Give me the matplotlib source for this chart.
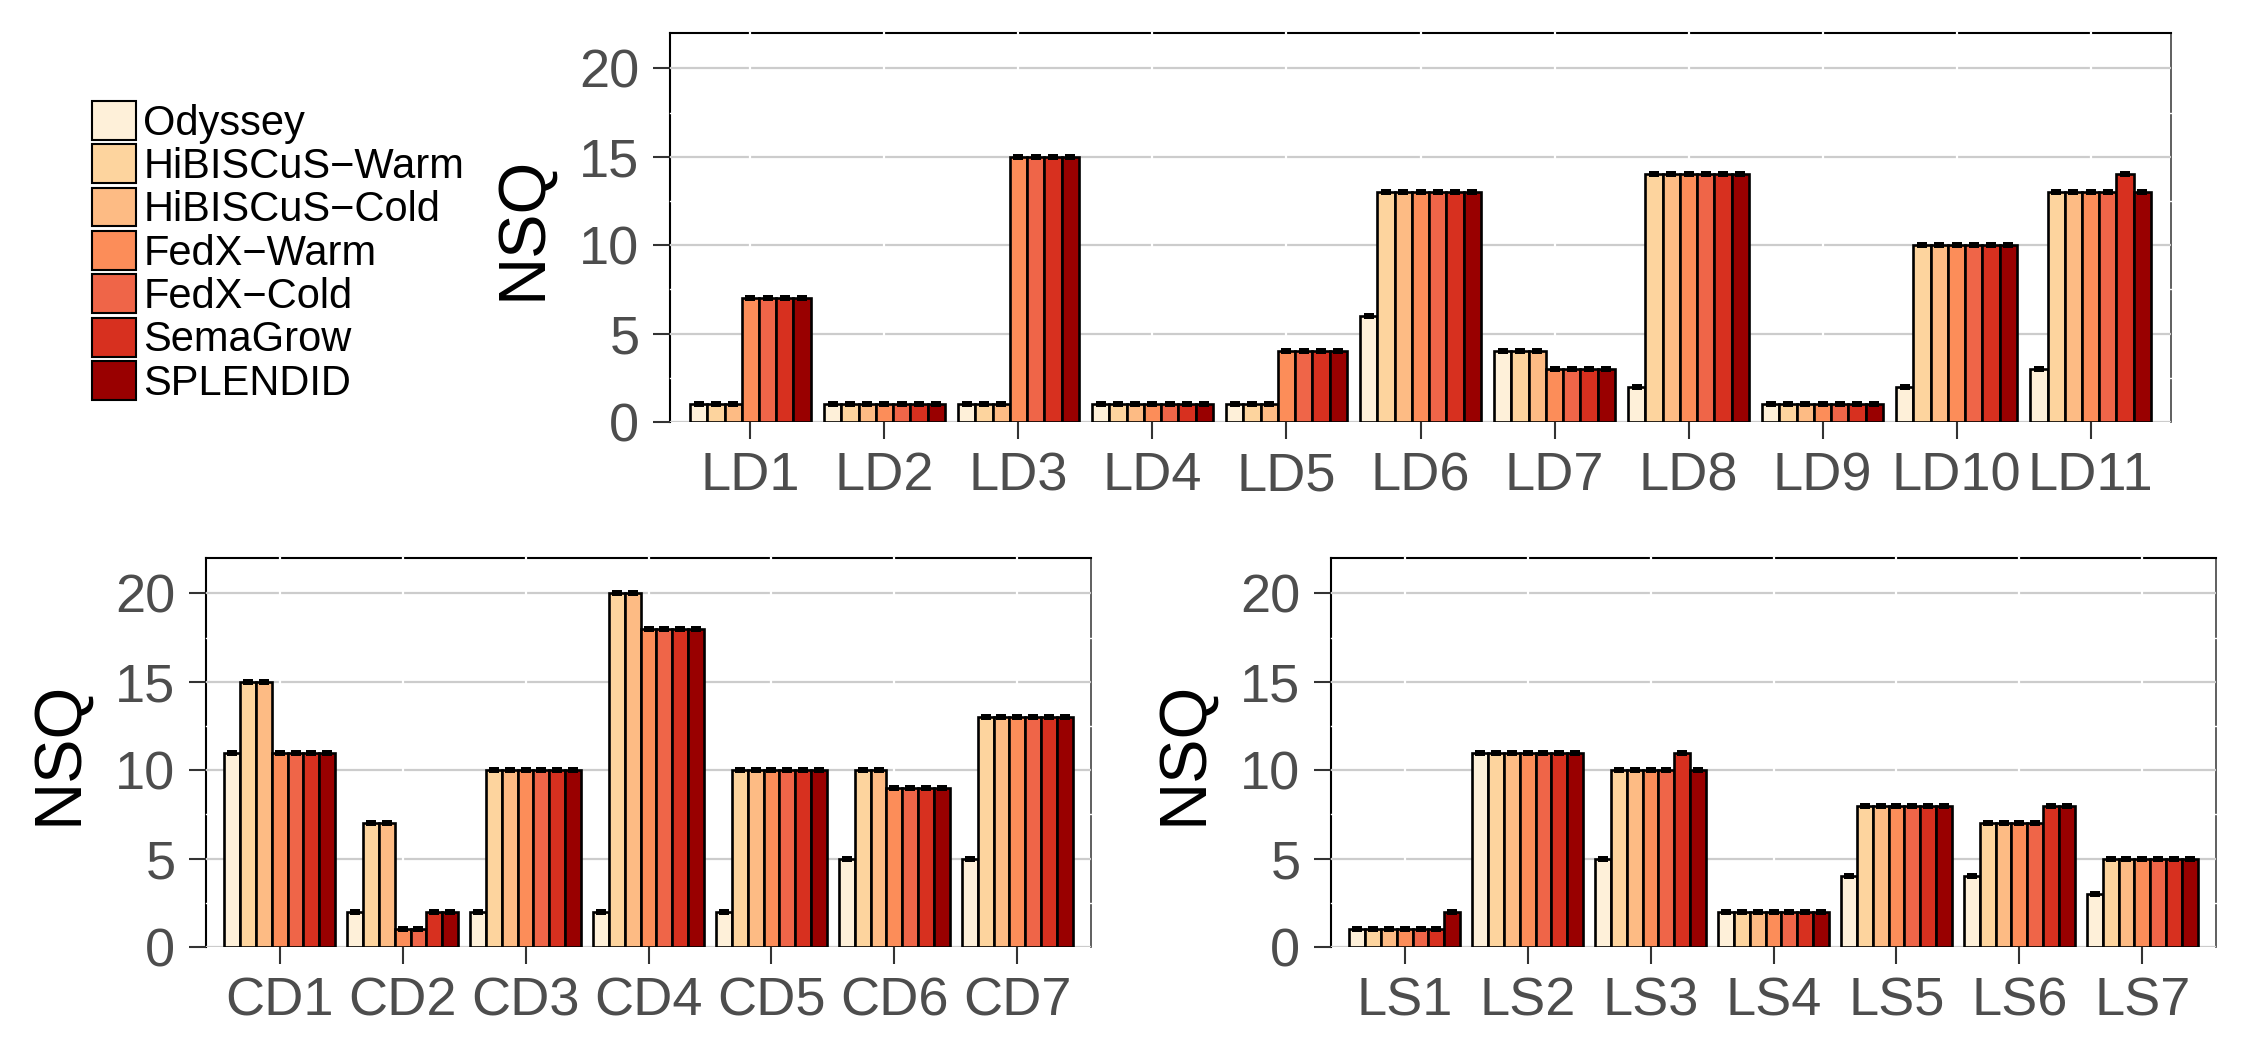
import matplotlib
matplotlib.use("Agg")
import matplotlib.pyplot as plt
from matplotlib.patches import Patch
import numpy as np

plt.rcParams['font.family'] = ['Liberation Sans', 'DejaVu Sans']

systems = ["Odyssey", "HiBISCuS\u2212Warm", "HiBISCuS\u2212Cold", "FedX\u2212Warm",
           "FedX\u2212Cold", "SemaGrow", "SPLENDID"]
colors = ['#fef0d9', '#fdd49e', '#fdbb84', '#fc8d59', '#ef6548', '#d7301f', '#990000']

# NSQ per query, one row per query, one column per system
ld_queries = ["LD1", "LD2", "LD3", "LD4", "LD5", "LD6", "LD7", "LD8", "LD9", "LD10", "LD11"]
ld_values = [
    [1, 1, 1, 7, 7, 7, 7],
    [1, 1, 1, 1, 1, 1, 1],
    [1, 1, 1, 15, 15, 15, 15],
    [1, 1, 1, 1, 1, 1, 1],
    [1, 1, 1, 4, 4, 4, 4],
    [6, 13, 13, 13, 13, 13, 13],
    [4, 4, 4, 3, 3, 3, 3],
    [2, 14, 14, 14, 14, 14, 14],
    [1, 1, 1, 1, 1, 1, 1],
    [2, 10, 10, 10, 10, 10, 10],
    [3, 13, 13, 13, 13, 14, 13],
]

cd_queries = ["CD1", "CD2", "CD3", "CD4", "CD5", "CD6", "CD7"]
cd_values = [
    [11, 15, 15, 11, 11, 11, 11],
    [2, 7, 7, 1, 1, 2, 2],
    [2, 10, 10, 10, 10, 10, 10],
    [2, 20, 20, 18, 18, 18, 18],
    [2, 10, 10, 10, 10, 10, 10],
    [5, 10, 10, 9, 9, 9, 9],
    [5, 13, 13, 13, 13, 13, 13],
]

ls_queries = ["LS1", "LS2", "LS3", "LS4", "LS5", "LS6", "LS7"]
ls_values = [
    [1, 1, 1, 1, 1, 1, 2],
    [11, 11, 11, 11, 11, 11, 11],
    [5, 10, 10, 10, 10, 11, 10],
    [2, 2, 2, 2, 2, 2, 2],
    [4, 8, 8, 8, 8, 8, 8],
    [4, 7, 7, 7, 7, 8, 8],
    [3, 5, 5, 5, 5, 5, 5],
]

W, H = 2250, 1050
fig = plt.figure(figsize=(W / 100, H / 100), dpi=100)


def rect(left, right, top, bottom):
    return [left / W, 1 - bottom / H, (right - left) / W, (bottom - top) / H]


def draw_panel(ax, queries, values):
    vals = np.array(values, dtype=float)
    n = len(queries)
    x = np.arange(n)
    w = 0.9 / len(systems)

    for y in [0, 5, 10, 15, 20]:
        ax.axhline(y, color='#cccccc', lw=1.6, zorder=0.6)
    for y in [2.5, 7.5, 12.5, 17.5]:
        ax.axhline(y, color='white', lw=1.0, zorder=0.7, clip_on=False)
    for xi in x:
        ax.axvline(xi, color='white', lw=1.6, zorder=0.7, clip_on=False)

    for j, (name, c) in enumerate(zip(systems, colors)):
        xs = x + (j - 3) * w
        ax.bar(xs, vals[:, j], width=w, color=c, edgecolor='black', linewidth=1.9, zorder=2)
        ax.errorbar(xs, vals[:, j], yerr=np.zeros(n), fmt='none', ecolor='black',
                    elinewidth=0, capsize=3.8, capthick=4.2, zorder=3)

    ax.set_xlim(-0.6, n - 0.4)
    ax.set_ylim(0, 22)
    ax.set_yticks([0, 5, 10, 15, 20])
    ax.set_xticks(x)
    ax.set_xticklabels(queries)
    ax.tick_params(axis='both', labelsize=39, labelcolor='#4d4d4d', color='#333333',
                   length=12, width=1.5)
    ax.tick_params(axis='y', pad=10)
    ax.tick_params(axis='x', pad=9)
    ax.set_ylabel("NSQ", fontsize=48, color='black', labelpad=18)

    ax.spines['bottom'].set_visible(False)
    for s in ['left', 'top']:
        ax.spines[s].set_color('black')
        ax.spines[s].set_linewidth(1.5)
        ax.spines[s].set_zorder(0.5)
    ax.spines['right'].set_color('#444444')
    ax.spines['right'].set_linewidth(1.2)
    ax.spines['right'].set_zorder(0.5)


ax_top = fig.add_axes(rect(670, 2171, 33, 422))
draw_panel(ax_top, ld_queries, ld_values)

ax_cd = fig.add_axes(rect(206, 1091, 558, 947))
draw_panel(ax_cd, cd_queries, cd_values)

ax_ls = fig.add_axes(rect(1331, 2216, 558, 947))
draw_panel(ax_ls, ls_queries, ls_values)

handles = [Patch(facecolor=c, edgecolor='black', linewidth=1.5) for c in colors]
fig.legend(handles, systems, loc='upper left', bbox_to_anchor=(92 / W, 1 - 101 / H),
           bbox_transform=fig.transFigure, frameon=False, borderpad=0, borderaxespad=0,
           handlelength=1.05, handleheight=1.05, handletextpad=0.18, labelspacing=0.02,
           fontsize=30)

fig.savefig("out.png", dpi=100)
